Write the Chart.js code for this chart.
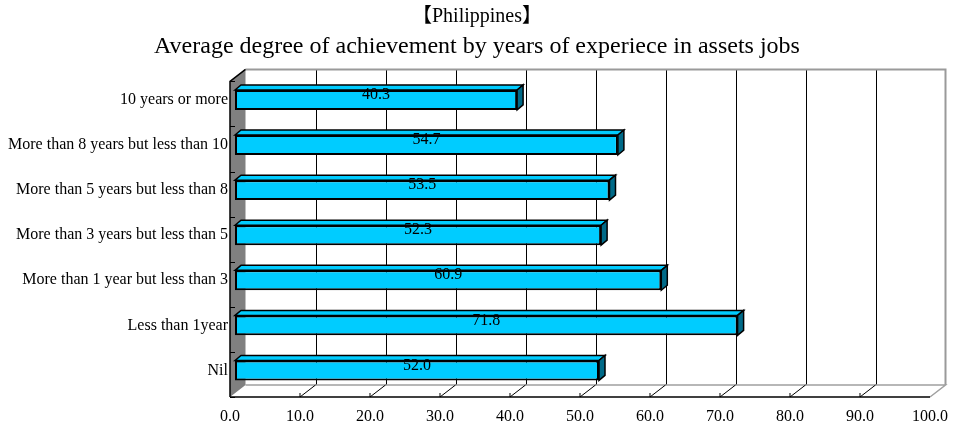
<!DOCTYPE html>
<html>
<head>
<meta charset="utf-8">
<script src="https://cdn.jsdelivr.net/npm/chart.js@4.4.1/dist/chart.umd.min.js"></script>
<style>
  body { margin: 0; background: #fff; }
  #wrap { width: 954px; height: 432px; }
</style>
</head>
<body>
<div id="wrap"><canvas id="myChart" width="954" height="432"></canvas></div>
<script>
const categories = [
    '10 years or more',
    'More than 8 years but less than 10',
    'More than 5 years but less than 8',
    'More than 3 years but less than 5',
    'More than 1 year but less than 3',
    'Less than 1year',
    'Nil'
];
const achievement = [40.3, 54.7, 53.5, 52.3, 60.9, 71.8, 52.0];
const xTicks = [0, 10, 20, 30, 40, 50, 60, 70, 80, 90, 100];

const serif = "'Liberation Serif', 'Noto Sans CJK JP', serif";

// offsets of the back wall and the front edge from the bar plane
const BACK = { x: 10.5, y: -8 };
const FRONT = { x: -5, y: 4 };
const BAR_DEPTH = { x: 6, y: -5 };

const box3d = {
    id: 'box3d',
    beforeDatasetsDraw(chart) {
        const ctx = chart.ctx;
        const a = chart.chartArea;
        const xs = chart.scales.x;
        const ys = chart.scales.y;
        const bl = a.left + BACK.x, br = a.right + BACK.x;
        const bt = a.top + BACK.y, bb = a.bottom + BACK.y;
        const fl = a.left + FRONT.x, fr = a.right + FRONT.x;
        const ft = a.top + FRONT.y, fb = a.bottom + FRONT.y;

        ctx.save();
        // back wall grid
        ctx.strokeStyle = '#000';
        ctx.lineWidth = 1;
        xTicks.slice(1, -1).forEach(v => {
            const px = Math.round(xs.getPixelForValue(v) + BACK.x) + 0.5;
            ctx.beginPath();
            ctx.moveTo(px, bt);
            ctx.lineTo(px, bb);
            ctx.stroke();
        });
        // back wall border
        ctx.strokeStyle = '#9a9a9a';
        ctx.lineWidth = 2;
        ctx.beginPath();
        ctx.moveTo(bl, bt);
        ctx.lineTo(br, bt);
        ctx.lineTo(br, bb);
        ctx.stroke();

        // floor
        ctx.lineWidth = 1.5;
        ctx.strokeStyle = '#a0a0a0';
        ctx.beginPath();
        ctx.moveTo(bl, bb);
        ctx.lineTo(br, bb);
        ctx.lineTo(fr, fb);
        ctx.stroke();
        ctx.strokeStyle = '#000';
        ctx.beginPath();
        ctx.moveTo(fl, fb);
        ctx.lineTo(fr, fb);
        ctx.stroke();
        ctx.lineWidth = 1;
        xTicks.slice(1, -1).forEach(v => {
            const px = xs.getPixelForValue(v);
            ctx.beginPath();
            ctx.moveTo(px + FRONT.x, fb - 4);
            ctx.lineTo(px + FRONT.x, fb);
            ctx.lineTo(px + BACK.x, bb);
            ctx.stroke();
        });

        // left side wall
        ctx.fillStyle = '#808080';
        ctx.beginPath();
        ctx.moveTo(fl, ft);
        ctx.lineTo(bl, bt);
        ctx.lineTo(bl, bb);
        ctx.lineTo(fl, fb);
        ctx.closePath();
        ctx.fill();
        ctx.strokeStyle = '#000';
        ctx.lineWidth = 1.5;
        ctx.beginPath();
        ctx.moveTo(bl, bt);
        ctx.lineTo(fl, ft);
        ctx.lineTo(fl, fb);
        ctx.stroke();
        // category separators on the side wall
        ctx.lineWidth = 1;
        for (let i = 0; i <= categories.length; i++) {
            const py = Math.round(ys.getPixelForValue(i - 0.5) + FRONT.y) + 0.5;
            ctx.beginPath();
            ctx.moveTo(fl, py);
            ctx.lineTo(fl + 5, py);
            ctx.stroke();
        }

        // top and side faces of each bar
        chart.getDatasetMeta(0).data.forEach(bar => {
            const p = bar.getProps(['x', 'y', 'base', 'height'], true);
            const top = p.y - p.height / 2, bottom = p.y + p.height / 2;
            ctx.lineWidth = 1.5;
            ctx.strokeStyle = '#000';
            ctx.fillStyle = '#00CCFF';
            ctx.beginPath();
            ctx.moveTo(p.base, top);
            ctx.lineTo(p.base + BAR_DEPTH.x, top + BAR_DEPTH.y);
            ctx.lineTo(p.x + BAR_DEPTH.x, top + BAR_DEPTH.y);
            ctx.lineTo(p.x, top);
            ctx.closePath();
            ctx.fill();
            ctx.stroke();
            ctx.fillStyle = '#006A88';
            ctx.beginPath();
            ctx.moveTo(p.x, top);
            ctx.lineTo(p.x + BAR_DEPTH.x, top + BAR_DEPTH.y);
            ctx.lineTo(p.x + BAR_DEPTH.x, bottom + BAR_DEPTH.y);
            ctx.lineTo(p.x, bottom);
            ctx.closePath();
            ctx.fill();
            ctx.stroke();
        });
        ctx.restore();
    },
    afterDatasetsDraw(chart) {
        const ctx = chart.ctx;
        ctx.save();
        ctx.fillStyle = '#000';
        ctx.font = '16px ' + serif;
        ctx.textAlign = 'center';
        ctx.textBaseline = 'middle';
        chart.getDatasetMeta(0).data.forEach((bar, i) => {
            const p = bar.getProps(['x', 'y', 'base'], true);
            ctx.fillText(achievement[i].toFixed(1), (p.x + p.base) / 2, p.y - 5);
        });
        ctx.restore();
    }
};

new Chart(document.getElementById('myChart'), {
    type: 'bar',
    data: {
        labels: categories,
        datasets: [{
            label: 'Average degree of achievement',
            data: achievement,
            backgroundColor: '#00CCFF',
            borderColor: '#000',
            borderWidth: 2,
            borderSkipped: false,
            categoryPercentage: 1,
            barPercentage: 0.443
        }]
    },
    options: {
        indexAxis: 'y',
        responsive: false,
        animation: false,
        layout: { padding: { left: 0, right: 0, top: 0, bottom: 0 } },
        plugins: {
            legend: { display: false },
            tooltip: { enabled: false },
            title: {
                display: true,
                text: '【Philippines】',
                color: '#000',
                font: { family: serif, size: 20, weight: 'normal' },
                padding: { top: 5, bottom: 0 }
            },
            subtitle: {
                display: true,
                text: 'Average degree of achievement by years of experiece in assets jobs',
                color: '#000',
                font: { family: serif, size: 24 },
                padding: { top: 3.6, bottom: 16 }
            }
        },
        scales: {
            x: {
                min: 0,
                max: 100,
                afterFit: s => {
                    s.height = 39;
                    s.paddingLeft = 5;
                    s.paddingRight = 19;
                },
                afterBuildTicks: s => { s.ticks = xTicks.map(v => ({ value: v })); },
                grid: { display: false, drawTicks: false },
                border: { display: false },
                ticks: {
                    color: '#000',
                    font: { family: serif, size: 16 },
                    padding: 14,
                    labelOffset: -5,
                    maxRotation: 0,
                    callback: v => v.toFixed(1)
                }
            },
            y: {
                afterFit: s => { s.width = 235; },
                grid: { display: false, drawTicks: false },
                border: { display: false },
                ticks: {
                    color: '#000',
                    font: { family: serif, size: 16 },
                    padding: 7
                }
            }
        }
    },
    plugins: [box3d]
});
</script>
</body>
</html>
